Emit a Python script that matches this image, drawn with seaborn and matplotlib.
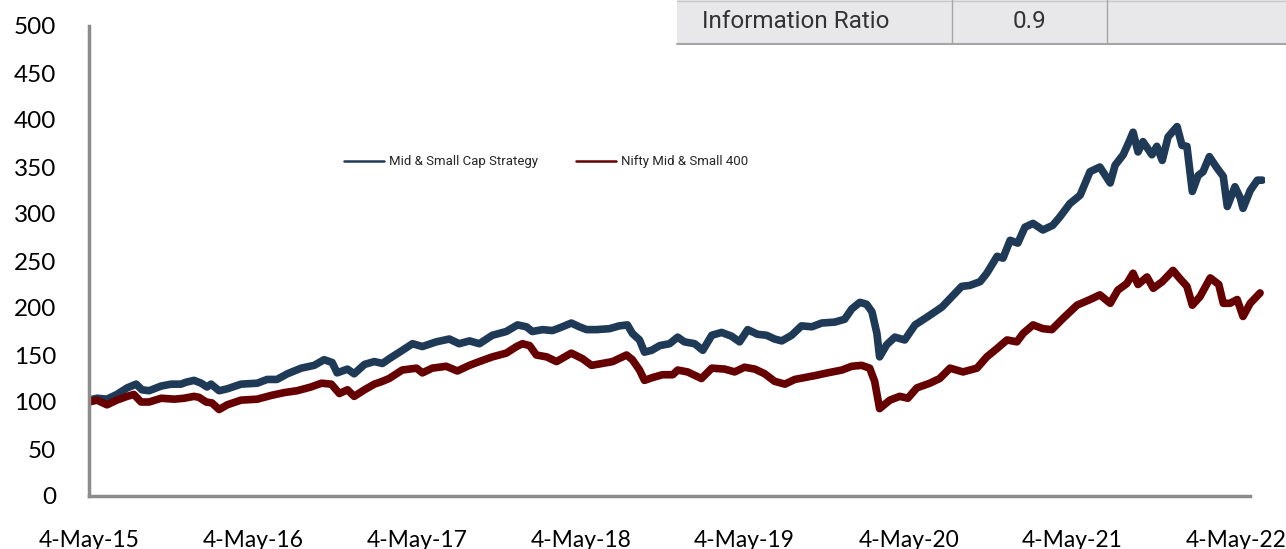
import numpy as np
import pandas as pd
import seaborn as sns
import matplotlib.pyplot as plt
import matplotlib.dates as mdates
from matplotlib.patches import Rectangle
from matplotlib.lines import Line2D

# values, days counted from 4-May-2015
strat_days = [0, 18, 40, 62, 85, 105, 118, 134, 161, 183, 205, 216, 234, 250, 263, 272, 290, 308,
              339, 375, 397, 419, 442, 473, 502, 524, 542, 553, 576, 591, 614, 636, 654, 669, 692,
              721, 743, 774, 803, 825, 848, 870, 899, 930, 955, 975, 988, 1011, 1033, 1055, 1075,
              1093, 1109, 1131, 1160, 1182, 1200, 1211, 1227, 1238, 1254, 1272, 1294, 1312, 1327,
              1350, 1368, 1388, 1410, 1432, 1450, 1468, 1490, 1510, 1528, 1544, 1566, 1588, 1611,
              1633, 1662, 1684, 1700, 1718, 1733, 1745, 1756, 1762, 1778, 1796, 1818, 1841, 1870,
              1901, 1923, 1945, 1963, 1986, 2001, 2024, 2037, 2053, 2070, 2086, 2104, 2126, 2148,
              2164, 2186, 2209, 2231, 2253, 2276, 2287, 2305, 2320, 2327, 2338, 2349, 2369, 2380,
              2392, 2405, 2425, 2436, 2447, 2459, 2472, 2483, 2497, 2514, 2528, 2537, 2554, 2566,
              2572, 2588, 2604, 2615]
strat_vals = [102, 104, 103, 108, 115, 119, 113, 112, 117, 119, 119, 121, 123, 120, 116, 119, 112, 114,
              119, 120, 124, 124, 130, 136, 139, 145, 142, 131, 135, 130, 140, 143, 141, 146, 153,
              162, 159, 164, 167, 162, 165, 162, 171, 175, 182, 180, 175, 177, 176, 180, 184,
              180, 177, 177, 178, 181, 182, 173, 166, 153, 155, 160, 162, 169, 164,
              162, 155, 171, 174, 170, 164, 177, 172, 171, 167, 165, 171, 181, 180,
              184, 185, 188, 199, 206, 204, 196, 173, 148, 161, 169, 166, 182, 191,
              201, 212, 223, 224, 228, 237, 255, 253, 272, 269, 286, 290, 283, 288,
              297, 311, 320, 345, 350, 333, 352, 363, 379, 387, 366, 377, 363, 372,
              357, 382, 393, 373, 372, 324, 341, 345, 361, 349, 340, 308, 329, 317,
              306, 325, 336, 336]

nifty_days = [0, 18, 40, 62, 85, 100, 116, 134, 161, 190, 212, 234, 245, 261, 274, 290, 308, 339,
              375, 406, 435, 464, 495, 518, 540, 558, 576, 591, 614, 636, 654, 669, 698, 730, 743,
              765, 796, 821, 848, 870, 899, 930, 953, 966, 982, 997, 1020, 1042, 1075, 1100, 1120,
              1144, 1167, 1198, 1211, 1227, 1238, 1256, 1278, 1301, 1312, 1334, 1365, 1388, 1417,
              1439, 1461, 1484, 1506, 1528, 1551, 1573, 1595, 1617, 1646, 1678, 1700, 1722, 1740,
              1751, 1762, 1785, 1807, 1825, 1845, 1874, 1896, 1919, 1948, 1979, 2001, 2024, 2046,
              2068, 2082, 2104, 2126, 2146, 2171, 2202, 2231, 2253, 2276, 2293, 2313, 2327, 2338,
              2358, 2372, 2392, 2416, 2430, 2447, 2459, 2476, 2499, 2518, 2528, 2543, 2559, 2572,
              2588, 2610]
nifty_vals = [100, 102, 97, 102, 106, 108, 100, 100, 104, 103, 104, 106, 105, 100, 99, 92, 97, 102,
              103, 107, 110, 112, 116, 120, 119, 109, 113, 106, 113, 119, 122, 125, 134, 136, 131,
              136, 138, 133, 139, 143, 148, 152, 159, 162, 160, 150, 148, 143, 152, 146, 139,
              141, 143, 150, 145, 134, 123, 126, 129, 129, 134, 132, 125, 136, 135,
              132, 137, 135, 130, 122, 119, 124, 126, 128, 131, 134, 138, 139, 136,
              122, 93, 102, 106, 104, 115, 120, 125, 136, 132, 136, 148, 157, 166,
              164, 173, 182, 178, 177, 189, 203, 209, 214, 205, 219, 226, 237, 225,
              233, 221, 228, 240, 232, 223, 203, 212, 232, 225, 205, 205, 209, 191,
              205, 216]

series_names = ["Mid & Small Cap Strategy", "Nifty Mid & Small 400"]
tick_labels = ["4-May-15", "4-May-16", "4-May-17", "4-May-18",
               "4-May-19", "4-May-20", "4-May-21", "4-May-22"]
y_ticks = list(range(0, 501, 50))

start = pd.Timestamp("2015-05-04")
df = pd.concat([
    pd.DataFrame({"date": start + pd.to_timedelta(strat_days, unit="D"),
                  "value": strat_vals, "series": series_names[0]}),
    pd.DataFrame({"date": start + pd.to_timedelta(nifty_days, unit="D"),
                  "value": nifty_vals, "series": series_names[1]}),
])

sns.set_style("white")
plt.rcParams["font.family"] = ["Lato", "DejaVu Sans"]

fig = plt.figure(figsize=(12.86, 5.49), dpi=100)
ax = fig.add_axes([89 / 1286, 1 - 496 / 549, (1265 - 89) / 1286, 470 / 549])

colors = ["#1f3a56", "#660000"]
sns.lineplot(data=df, x="date", y="value", hue="series", palette=colors,
             linewidth=5.5, ax=ax, legend=False, estimator=None)

ax.set_ylim(0, 500)
ax.set_yticks(y_ticks)
ax.set_xlim(start, start + pd.Timedelta(days=2621))
tick_dates = [pd.Timestamp(f"{y}-05-04") for y in range(2015, 2023)]
ax.set_xticks(tick_dates)
ax.set_xticklabels(tick_labels)
ax.set_xlabel("")
ax.set_ylabel("")

sns.despine(ax=ax)
for s in ["left", "bottom"]:
    ax.spines[s].set_color("#8c8c8c")
    ax.spines[s].set_linewidth(2.5)
ax.spines["bottom"].set_bounds(mdates.date2num(start),
                               mdates.date2num(start + pd.Timedelta(days=2588)))
ax.tick_params(axis="y", direction="out", length=7.5, width=2.5, color="#8c8c8c",
               labelsize=17.5, pad=16, labelcolor="black")
ax.tick_params(axis="x", direction="inout", length=9, width=2.5, color="#8c8c8c",
               labelsize=16.5, pad=20, labelcolor="black")

# legend
handles = [Line2D([], [], color=c, lw=1.8) for c in colors]
ax.legend(handles, series_names, loc="center left",
          bbox_to_anchor=(344 / 1286, 1 - 162 / 549), bbox_transform=fig.transFigure,
          ncol=2, frameon=False, borderpad=0, borderaxespad=0, handlelength=3.0,
          handletextpad=0.4, columnspacing=2.9,
          prop={"family": "Roboto", "size": 9.5})

# small table at the top right
def px(x, y):
    return x / 1286, 1 - y / 549

fig.add_artist(Rectangle(px(677, 44), (1286 - 677) / 1286, 44 / 549,
                         transform=fig.transFigure, facecolor="#e8e8ea",
                         edgecolor="none"))
fig.add_artist(Line2D([677 / 1286, 1], [1 - 44 / 549] * 2, transform=fig.transFigure,
                      color="#a6a6a6", lw=1.5))
fig.add_artist(Line2D([677 / 1286, 1], [1 - 1 / 549] * 2, transform=fig.transFigure,
                      color="#c8c8c8", lw=1))
for xv in [952, 1107]:
    fig.add_artist(Line2D([xv / 1286] * 2, [1 - 44 / 549, 1], transform=fig.transFigure,
                          color="#a6a6a6", lw=1))
fig.text(*px(702, 22), "Information Ratio", ha="left", va="center",
         fontsize=17.5, family="Roboto", color="#333333")
fig.text(*px(1030, 22), "0.9", ha="center", va="center",
         fontsize=17.5, family="Roboto", color="#333333")

fig.savefig("out.png", dpi=100)
